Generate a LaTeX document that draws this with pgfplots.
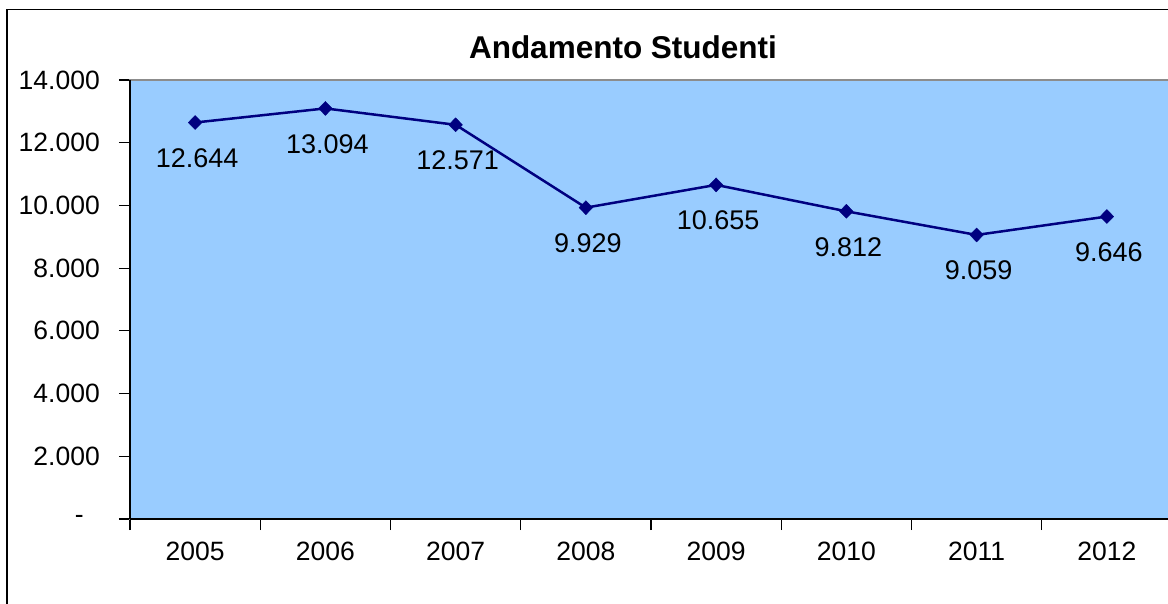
\documentclass[border=0pt]{standalone}
\usepackage{pgfplots}
\pgfplotsset{compat=1.18}
\usepackage{fontspec}
\setmainfont{Liberation Sans}
\definecolor{plotbg}{HTML}{99CCFF}
\definecolor{navy}{HTML}{000080}
\begin{document}
\begin{tikzpicture}[x=1pt,y=1pt]
\path[use as bounding box] (0,0) rectangle (1168,603);
\fill[white] (0,0) rectangle (1168,603);
\draw[black, line width=1.8pt] (7,-20) -- (7,593.5) -- (1190,593.5);
\begin{axis}[
  at={(130pt,84pt)}, anchor=south west,
  scale only axis, width=1042pt, height=439pt,
  xmin=-0.5, xmax=7.5, ymin=0, ymax=14000,
  scaled y ticks=false,
  axis background/.style={fill=plotbg},
  axis line style={draw=gray!90, line width=1.5pt},
  xtick={-0.5,0.5,...,7.5},
  x tick label as interval,
  xticklabels={2005,2006,2007,2008,2009,2010,2011,2012},
  ytick={0,2000,...,14000},
  yticklabels={{-\hspace*{16pt}},2.000,4.000,6.000,8.000,10.000,12.000,14.000},
  tick align=outside, xtick pos=bottom, ytick pos=left,
  major tick length=11pt,
  tick style={black, line width=1.2pt},
  ticklabel style={font=\fontsize{26.5}{30}\selectfont},
  yticklabel style={anchor=east, inner sep=0pt, xshift=-19pt},
  xticklabel style={anchor=north, inner sep=0pt, yshift=-12pt},
  clip=false,
  nodes near coords={\pgfmathprintnumber[fixed,precision=0,1000 sep={.},assume math mode=true]{\pgfplotspointmeta}},
  point meta=y,
  every node near coord/.append style={anchor=north, inner sep=0pt, yshift=-26pt, xshift=2pt, font=\fontsize{27}{30}\selectfont, text=black},
]
\addplot[navy, line width=2.5pt, mark=diamond*, mark size=7pt, mark options={fill=navy, draw=navy, line width=0.4pt, xscale=1.3}]
  coordinates {(0,12644) (1,13094) (2,12571) (3,9929) (4,10655) (5,9812) (6,9059) (7,9646)};
\draw[black, line width=1.8pt] (rel axis cs:0,0) -- (rel axis cs:0,1);
\draw[black, line width=1.8pt] (rel axis cs:0,0) -- (rel axis cs:1,0);
\end{axis}
\node[anchor=base, font=\bfseries\fontsize{31.5}{34}\selectfont] at (623,544) {Andamento Studenti};
\end{tikzpicture}
\end{document}
